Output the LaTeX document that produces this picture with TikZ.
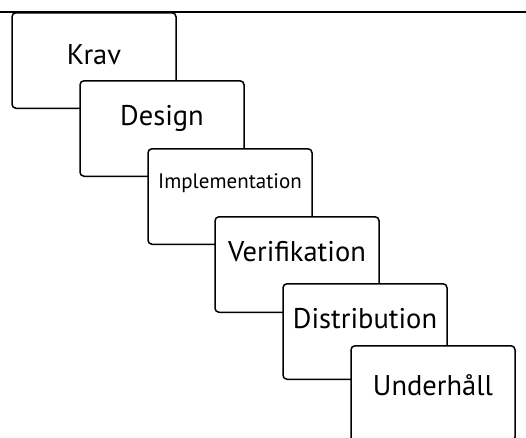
\documentclass[tikz,border=0pt]{standalone}
\usepackage{fontspec}
\setmainfont{PT Sans}
\usetikzlibrary{positioning}

\begin{document}
\begin{tikzpicture}[x=1pt, y=1pt, node distance=68pt and 68pt, on grid,
    phase/.style={draw, rounded corners=4pt, line width=1.5pt, fill=white,
      minimum width=164pt, minimum height=95.5pt, inner sep=0pt},
    phasename/.style={anchor=base, font=\fontsize{28.5}{30}\selectfont}]
  \useasboundingbox (0,0) rectangle (526,-437);
  % rule along the top
  \coordinate (topleft) at (0,-12);
  \coordinate (topright) at (526,-12);
  \draw[line width=2.2pt] (topleft) -- (topright);

  % the phases, each one stacked over the one before
  \node[phase] (krav) at (94,-60.5) {};
  \node[phasename] (kravname) at ([yshift=-52pt]krav.north) {Krav};
  \node[phase, below right=of krav] (design) {};
  \node[phasename] (designname) at ([yshift=-45pt]design.north) {Design};
  \node[phase, below right=of design] (impl) {};
  \node[phasename, font=\fontsize{21}{22}\selectfont] (implname) at ([yshift=-40pt]impl.north) {Implementation};
  \node[phase, below right=68pt and 67pt of impl] (verif) {};
  \node[phasename] (verifname) at ([yshift=-45pt]verif.north) {Verifikation};
  \node[phase, below right=67pt and 68pt of verif] (distr) {};
  \node[phasename] (distrname) at ([yshift=-45pt]distr.north) {Distribution};
  \node[phase, below right=62pt and 68pt of distr] (underh) {};
  \node[phasename] (underhname) at ([yshift=-50pt]underh.north) {Underhåll};
\end{tikzpicture}
\end{document}
